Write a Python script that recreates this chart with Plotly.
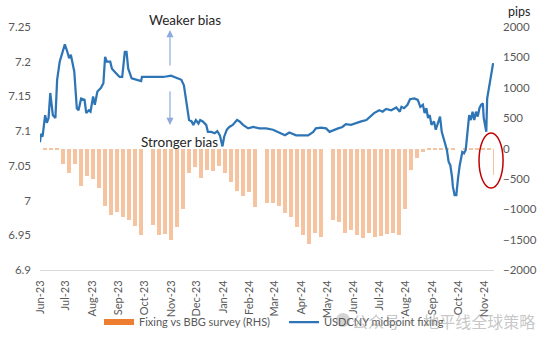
import plotly.graph_objects as go

# ---- USDCNY midpoint fixing (LHS) ----
line_dates = [
    "2023-06-01", "2023-06-02", "2023-06-04", "2023-06-07", "2023-06-09", "2023-06-11", "2023-06-13",
    "2023-06-15", "2023-06-16", "2023-06-19", "2023-06-21", "2023-06-24", "2023-06-30", "2023-07-03",
    "2023-07-05", "2023-07-07", "2023-07-11", "2023-07-14", "2023-07-16", "2023-07-19", "2023-07-23",
    "2023-07-25", "2023-07-28", "2023-07-30", "2023-08-02", "2023-08-04", "2023-08-07", "2023-08-11",
    "2023-08-14", "2023-08-16", "2023-08-18", "2023-08-22", "2023-08-24", "2023-08-29", "2023-09-02",
    "2023-09-05", "2023-09-06", "2023-09-08", "2023-09-10", "2023-09-12", "2023-09-16", "2023-09-22",
    "2023-09-27", "2023-09-28", "2023-10-05", "2023-10-11", "2023-10-17", "2023-10-23", "2023-11-01",
    "2023-11-13", "2023-11-16", "2023-11-19", "2023-11-22", "2023-11-25", "2023-11-27", "2023-11-30",
    "2023-12-03", "2023-12-05", "2023-12-08", "2023-12-12", "2023-12-14", "2023-12-18", "2023-12-22",
    "2023-12-25", "2023-12-28", "2023-12-31", "2024-01-02", "2024-01-05", "2024-01-08", "2024-01-12",
    "2024-01-17", "2024-01-20", "2024-01-24", "2024-01-30", "2024-02-05", "2024-02-12", "2024-02-20",
    "2024-02-28", "2024-03-07", "2024-03-13", "2024-03-18", "2024-03-26", "2024-04-01", "2024-04-09",
    "2024-04-15", "2024-04-18", "2024-04-24", "2024-04-30", "2024-05-04", "2024-05-09", "2024-05-14",
    "2024-05-19", "2024-05-23", "2024-05-29", "2024-06-04", "2024-06-10", "2024-06-16", "2024-06-21",
    "2024-06-25", "2024-07-01", "2024-07-05", "2024-07-09", "2024-07-15", "2024-07-21", "2024-07-25",
    "2024-07-27", "2024-07-30", "2024-08-03", "2024-08-06", "2024-08-11", "2024-08-15", "2024-08-18",
    "2024-08-21", "2024-08-23", "2024-08-25", "2024-08-27", "2024-08-29", "2024-08-31", "2024-09-03",
    "2024-09-05", "2024-09-08", "2024-09-10", "2024-09-12", "2024-09-15", "2024-09-18", "2024-09-20",
    "2024-09-22", "2024-09-24", "2024-09-25", "2024-09-27", "2024-09-29", "2024-10-01", "2024-10-03",
    "2024-10-06", "2024-10-08", "2024-10-10", "2024-10-12", "2024-10-14", "2024-10-16", "2024-10-18",
    "2024-10-20", "2024-10-22", "2024-10-24", "2024-10-26", "2024-10-28", "2024-10-30", "2024-10-31",
    "2024-11-03", "2024-11-04", "2024-11-06", "2024-11-08", "2024-11-11",
]
line_fixing = [
    7.084, 7.096, 7.092, 7.123, 7.112, 7.119, 7.155,
    7.135, 7.123, 7.119, 7.174, 7.200, 7.225, 7.214,
    7.205, 7.210, 7.186, 7.133, 7.130, 7.147, 7.145,
    7.126, 7.130, 7.128, 7.150, 7.138, 7.157, 7.162,
    7.169, 7.207, 7.200, 7.200, 7.190, 7.183, 7.178,
    7.178, 7.195, 7.214, 7.214, 7.190, 7.176, 7.174,
    7.172, 7.178, 7.178, 7.178, 7.179, 7.178, 7.180,
    7.174, 7.166, 7.140, 7.116, 7.114, 7.109, 7.116,
    7.111, 7.116, 7.114, 7.109, 7.099, 7.099, 7.097,
    7.100, 7.094, 7.078, 7.092, 7.102, 7.106, 7.109,
    7.116, 7.114, 7.109, 7.104, 7.106, 7.104, 7.104,
    7.102, 7.098, 7.094, 7.098, 7.094, 7.094, 7.094,
    7.099, 7.104, 7.105, 7.104, 7.099, 7.102, 7.104,
    7.106, 7.110, 7.109, 7.112, 7.114, 7.116, 7.121,
    7.126, 7.130, 7.128, 7.132, 7.130, 7.134, 7.128,
    7.135, 7.133, 7.138, 7.146, 7.147, 7.145, 7.135,
    7.138, 7.126, 7.133, 7.119, 7.123, 7.109, 7.114,
    7.102, 7.114, 7.121, 7.099, 7.085, 7.073, 7.056,
    7.051, 7.034, 7.020, 7.008, 7.008, 7.032, 7.051,
    7.070, 7.068, 7.073, 7.094, 7.123, 7.116, 7.128,
    7.116, 7.128, 7.121, 7.133, 7.138, 7.140, 7.119,
    7.099, 7.147, 7.164, 7.176, 7.198,
]

# ---- Fixing vs BBG survey, pips (RHS), weekly ----
bar_weeks = [
    "2023-06-07", "2023-06-14", "2023-06-21", "2023-06-28", "2023-07-05", "2023-07-12", "2023-07-19",
    "2023-07-26", "2023-08-02", "2023-08-09", "2023-08-16", "2023-08-23", "2023-08-30", "2023-09-06",
    "2023-09-13", "2023-09-20", "2023-09-27", "2023-10-11", "2023-10-18", "2023-10-25", "2023-11-01",
    "2023-11-08", "2023-11-15", "2023-11-22", "2023-11-29", "2023-12-06", "2023-12-13", "2023-12-20",
    "2023-12-27", "2024-01-03", "2024-01-10", "2024-01-17", "2024-01-24", "2024-01-31", "2024-02-07",
    "2024-02-21", "2024-02-28", "2024-03-06", "2024-03-13", "2024-03-20", "2024-03-27", "2024-04-03",
    "2024-04-10", "2024-04-17", "2024-04-24", "2024-05-08", "2024-05-15", "2024-05-22", "2024-05-29",
    "2024-06-05", "2024-06-12", "2024-06-19", "2024-06-26", "2024-07-03", "2024-07-10", "2024-07-17",
    "2024-07-24", "2024-07-31", "2024-08-07", "2024-08-14", "2024-08-21", "2024-08-28", "2024-09-04",
    "2024-09-11", "2024-09-18", "2024-09-25", "2024-10-09", "2024-10-16", "2024-10-23", "2024-10-30",
    "2024-11-06", "2024-11-13",
]
bar_pips = [
    -15, -20, -25, -250, -400, -250, -620,
    -450, -500, -650, -950, -1090, -1050, -1120,
    -1180, -1270, -1420, -1260, -1420, -1400, -1500,
    -1300, -1000, -400, -300, -480, -350, -370,
    -280, -400, -550, -700, -790, -720, -960,
    -900, -900, -950, -1060, -1130, -1290, -1420,
    -1570, -1390, -1460, -1180, -1210, -1390, -1340,
    -1420, -1475, -1390, -1450, -1440, -1410, -1390,
    -1420, -1000, -350, -150, -50, -20, -15,
    -15, -10, -10, -10, -10, -10, -10,
    -15, -436,
]

month_ticks = [
    "2023-06-01", "2023-07-01", "2023-08-01", "2023-09-01", "2023-10-01", "2023-11-01",
    "2023-12-01", "2024-01-01", "2024-02-01", "2024-03-01", "2024-04-01", "2024-05-01",
    "2024-06-01", "2024-07-01", "2024-08-01", "2024-09-01", "2024-10-01", "2024-11-01",
]
lhs_ticks = [6.9, 6.95, 7.0, 7.05, 7.1, 7.15, 7.2, 7.25]
lhs_labels = ["6.9", "6.95", "7", "7.05", "7.1", "7.15", "7.2", "7.25"]
rhs_ticks = [-2000, -1500, -1000, -500, 0, 500, 1000, 1500, 2000]

FONT = "Lato"
GREY = "#595959"
DAY_MS = 86400000

fig = go.Figure()
fig.add_trace(go.Bar(
    x=bar_weeks, y=bar_pips, width=5 * DAY_MS, yaxis="y",
    marker=dict(color="#F6C3A1", line=dict(width=0)),
    showlegend=False, name="Fixing vs BBG survey (RHS)",
))
fig.add_trace(go.Scatter(
    x=[None], y=[None], mode="lines", yaxis="y",
    line=dict(color="#ED7D31", width=6),
    name="Fixing vs BBG survey (RHS)",
))
fig.add_trace(go.Scatter(
    x=line_dates, y=line_fixing, mode="lines", yaxis="y2",
    line=dict(color="#2E75B6", width=2.25),
    name="USDCNY midpoint fixing",
))

fig.update_layout(
    width=550, height=343,
    margin=dict(l=40, r=56, t=27, b=73, autoexpand=False),
    paper_bgcolor="white", plot_bgcolor="white",
    font=dict(family=FONT, size=11, color=GREY),
    xaxis=dict(
        type="date", range=["2023-06-01", "2024-11-12"],
        tickvals=month_ticks, tickformat="%b-%y", tickangle=-90,
        showgrid=False, zeroline=False, showline=True, linecolor="#D9D9D9", linewidth=1,
        ticks="", ticklabelstandoff=5, automargin=False,
        tickfont=dict(family=FONT, size=11, color=GREY),
    ),
    yaxis=dict(
        side="right", range=[-2000, 2000], tickvals=rhs_ticks,
        showgrid=False, zeroline=False, showline=False, ticks="",
        ticklabelstandoff=8, automargin=False,
        tickfont=dict(family=FONT, size=11.5, color=GREY),
    ),
    yaxis2=dict(
        side="left", overlaying="y", anchor="x", range=[6.9, 7.25],
        tickvals=lhs_ticks, ticktext=lhs_labels,
        showgrid=False, zeroline=False, showline=False, ticks="",
        ticklabelstandoff=8, automargin=False,
        tickfont=dict(family=FONT, size=11.5, color=GREY),
    ),
    bargap=0,
    legend=dict(
        orientation="h", x=0.13, xanchor="left", y=-0.214, yanchor="middle",
        font=dict(family=FONT, size=11, color=GREY),
        entrywidth=140, entrywidthmode="pixels",
        bgcolor="rgba(0,0,0,0)", traceorder="normal",
    ),
    annotations=[
        dict(text="Weaker bias", xref="paper", yref="paper", x=0.319, y=1.029,
             xanchor="center", yanchor="middle",
             showarrow=False, font=dict(family=FONT, size=13.5, color="#262626")),
        dict(text="Stronger bias", xref="paper", yref="paper", x=0.308, y=0.527,
             xanchor="center", yanchor="middle",
             showarrow=False, font=dict(family=FONT, size=13.5, color="#262626")),
        dict(text="pips", xref="paper", yref="paper", x=1.055, y=1.064,
             xanchor="center", yanchor="middle",
             showarrow=False, font=dict(family=FONT, size=12.5, color="#262626")),
        dict(text="", xref="paper", yref="paper", x=0.2863, y=0.9877, ax=0, ay=37,
             showarrow=True, arrowhead=2, arrowsize=1.2, arrowwidth=1.2, arrowcolor="#8FAADC"),
        dict(text="", xref="paper", yref="paper", x=0.2863, y=0.5967, ax=0, ay=-35,
             showarrow=True, arrowhead=2, arrowsize=1.2, arrowwidth=1.2, arrowcolor="#8FAADC"),
        dict(text="公众号 · 地平线全球策略", xref="paper", yref="paper", x=0.888, y=-0.21,
             xanchor="center", yanchor="middle", showarrow=False,
             font=dict(family="Noto Sans CJK SC", size=16, color="rgba(150,150,150,0.55)")),
    ],
    shapes=[
        dict(type="circle", xref="paper", yref="paper", x0=0.967, x1=1.020, y0=0.337, y1=0.564,
             line=dict(color="#C00000", width=1.5)),
        dict(type="circle", xref="paper", yref="paper", x0=0.652, x1=0.683, y0=-0.2346, y1=-0.177,
             fillcolor="rgba(160,160,160,0.45)", line=dict(width=0)),
    ],
)

fig.write_html("out.html")
